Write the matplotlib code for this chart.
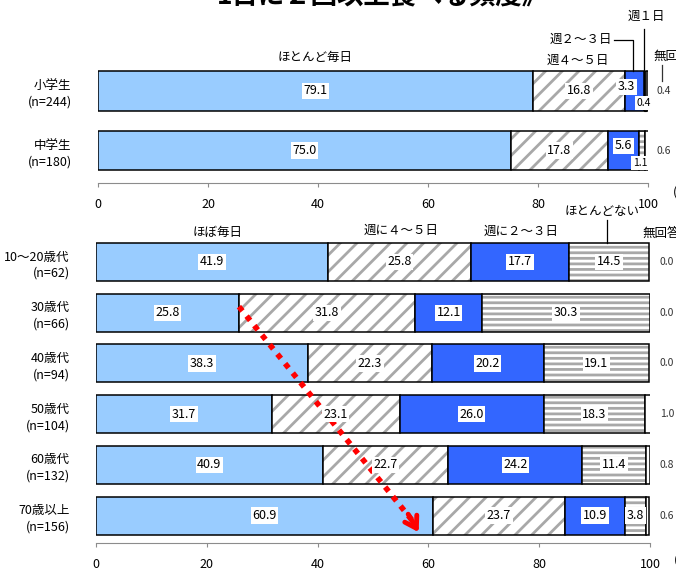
import numpy as np
import matplotlib.pyplot as plt

plt.rcParams['font.family'] = ['Noto Sans CJK JP', 'DejaVu Sans']
plt.rcParams['hatch.linewidth'] = 2.0

# top panel: school children
top_groups = ['小学生\n(n=244)', '中学生\n(n=180)']
top_daily = [79.1, 75.0]
top_45 = [16.8, 17.8]
top_23 = [3.3, 5.6]
top_w1 = [0.4, 0.0]
top_rare = [0.0, 1.1]
top_na = [0.4, 0.6]

# bottom panel: adults by age
age_groups = ['10～20歳代\n(n=62)', '30歳代\n(n=66)', '40歳代\n(n=94)',
              '50歳代\n(n=104)', '60歳代\n(n=132)', '70歳以上\n(n=156)']
age_daily = [41.9, 25.8, 38.3, 31.7, 40.9, 60.9]
age_45 = [25.8, 31.8, 22.3, 23.1, 22.7, 23.7]
age_23 = [17.7, 12.1, 20.2, 26.0, 24.2, 10.9]
age_rare = [14.5, 30.3, 19.1, 18.3, 11.4, 3.8]
age_na = [0.0, 0.0, 0.0, 1.0, 0.8, 0.6]

ticks = [0, 20, 40, 60, 80, 100]

LIGHT = '#99ccff'
BLUE = '#3366ff'
box = dict(facecolor='white', edgecolor='none', pad=1.2)
VS = 9  # value label size

fig = plt.figure(figsize=(6.76, 5.72), dpi=100)
W, H = 676, 572
ax1 = fig.add_axes([98 / W, 1 - 183 / H, 550 / W, 121 / H])
ax2 = fig.add_axes([96 / W, 1 - 543 / H, 554 / W, 315 / H])


def segment(ax, y, left, width, h, kind):
    if kind == 'daily':
        ax.barh(y, width, left=left, height=h, color=LIGHT, edgecolor='black', lw=1.1)
    elif kind == 'w45':
        ax.barh(y, width, left=left, height=h, color='white', edgecolor='#a8a8a8',
                hatch='//', lw=0)
        ax.barh(y, width, left=left, height=h, color='none', edgecolor='black', lw=1.1)
    elif kind == 'w23':
        ax.barh(y, width, left=left, height=h, color=BLUE, edgecolor='black', lw=1.1)
    elif kind == 'w1':
        ax.barh(y, width, left=left, height=h, color='#505050', edgecolor='black', lw=0.8)
    elif kind == 'rare':
        ax.barh(y, width, left=left, height=h, color='white', edgecolor='#a8a8a8',
                hatch='---', lw=0)
        ax.barh(y, width, left=left, height=h, color='none', edgecolor='black', lw=1.1)
    else:
        ax.barh(y, width, left=left, height=h, color='white', edgecolor='black', lw=1.1)


def style_axis(ax):
    for s in ['top', 'right', 'left']:
        ax.spines[s].set_visible(False)
    ax.spines['bottom'].set_color('#8c8c8c')
    ax.set_xlim(0, 100)
    ax.set_xticks(ticks)
    ax.tick_params(axis='x', direction='out', length=3, color='#8c8c8c',
                   labelsize=9, pad=8)
    ax.tick_params(axis='y', length=0, labelsize=9, pad=19)
    for lab in ax.get_yticklabels():
        lab.set_linespacing(1.35)


# ---- top panel
y1 = np.arange(len(top_groups))
h1 = 0.67
for i in y1:
    parts = [(top_daily[i], 'daily'), (top_45[i], 'w45'), (top_23[i], 'w23'),
             (top_w1[i], 'w1'), (top_rare[i], 'rare'), (top_na[i], 'na')]
    left = 0
    for v, k in parts:
        if v > 0:
            segment(ax1, i, left, v, h1, k)
        left += v
ax1.set_ylim(1.546, -0.487)
ax1.set_yticks(y1)
ax1.set_yticklabels(top_groups)
style_axis(ax1)

for i in y1:
    ax1.text(top_daily[i] / 2, i, f'{top_daily[i]:.1f}', ha='center', va='center', fontsize=VS, bbox=box)
    ax1.text(top_daily[i] + top_45[i] / 2, i, f'{top_45[i]:.1f}', ha='center', va='center', fontsize=VS, bbox=box)
    ax1.text(101.5, i, f'{top_na[i]:.1f}', ha='left', va='center', fontsize=7.5, color='#333333')

s = top_daily[0] + top_45[0]
ax1.text(s + 0.2, -0.07, f'{top_23[0]:.1f}', ha='center', va='center', fontsize=VS, bbox=box)
ax1.text(99.3, 0.2, f'{top_w1[0]:.1f}', ha='center', va='center', fontsize=7.5, bbox=box)
s = top_daily[1] + top_45[1]
ax1.text(s + top_23[1] / 2, 0.92, f'{top_23[1]:.1f}', ha='center', va='center', fontsize=VS, bbox=box)
ax1.text(98.6, 1.21, f'{top_rare[1]:.1f}', ha='center', va='center', fontsize=7.5, bbox=box)

# category captions above the top bars
ax1.text(39.5, -0.57, 'ほとんど毎日', ha='center', va='center', fontsize=9)
ax1.text(87.2, -0.51, '週４～５日', ha='center', va='center', fontsize=9)
ax1.text(93.4, -0.86, '週２～３日', ha='right', va='center', fontsize=9, clip_on=False)
ax1.plot([93.8, 97.3, 97.3], [-0.86, -0.86, -0.33], color='black', lw=0.9, clip_on=False)
ax1.text(96.2, -1.25, '週１日', ha='left', va='center', fontsize=9, clip_on=False)
ax1.plot([99.3, 99.3], [-1.04, -0.33], color='black', lw=0.9, clip_on=False)
ax1.text(100.9, -0.58, '無回答', ha='left', va='center', fontsize=9, clip_on=False)
ax1.plot([102.5, 102.5], [-0.44, -0.17], color='#333333', lw=0.9, clip_on=False)
ax1.text(104.5, 1.7, '(%)', ha='left', va='center', fontsize=9, clip_on=False)

# ---- bottom panel
y2 = np.arange(len(age_groups))
h2 = 0.75
for i in y2:
    parts = [(age_daily[i], 'daily'), (age_45[i], 'w45'), (age_23[i], 'w23'),
             (age_rare[i], 'rare'), (age_na[i], 'na')]
    left = 0
    for v, k in parts:
        if v > 0:
            segment(ax2, i, left, v, h2, k)
        if v > 2:
            ax2.text(left + v / 2, i, f'{v:.1f}', ha='center', va='center', fontsize=VS, bbox=box)
        left += v
    ax2.text(101.8, i, f'{age_na[i]:.1f}', ha='left', va='center', fontsize=7.5, color='#333333')
ax2.set_ylim(5.54, -0.67)
ax2.set_yticks(y2)
ax2.set_yticklabels(age_groups)
style_axis(ax2)

ax2.text(22.0, -0.58, 'ほぼ毎日', ha='center', va='center', fontsize=9)
ax2.text(55.0, -0.63, '週に４～５日', ha='center', va='center', fontsize=9)
ax2.text(76.8, -0.61, '週に２～３日', ha='center', va='center', fontsize=9)
ax2.text(91.3, -0.99, 'ほとんどない', ha='center', va='center', fontsize=9, clip_on=False)
ax2.plot([92.3, 92.3], [-0.83, -0.38], color='black', lw=0.9, clip_on=False)
ax2.text(98.7, -0.56, '無回答', ha='left', va='center', fontsize=9, clip_on=False)
ax2.text(104.3, 5.88, '(%)', ha='left', va='center', fontsize=9, clip_on=False)

# red dotted trend arrow from 30歳代 down to the bottom of 70歳以上
x0, yy0 = age_daily[1], 0.88
x1, yy1 = 58.5, 5 + h2 / 2
ax2.plot([x0, x1 - 1.2], [yy0, yy1 - 0.25], color='red', lw=4.0,
         linestyle=(0, (1, 1.2)), dash_capstyle='butt')
ax2.annotate('', xy=(x1, yy1), xytext=(x1 - 2.4, yy1 - 0.45),
             arrowprops=dict(arrowstyle='->,head_length=0.8,head_width=0.5',
                             color='red', lw=3.5))

# title (upper part is cut off by the figure edge)
fig.text(0.566, 1.005, '1日に２回以上食べる頻度》', ha='center', va='center',
         fontsize=19, fontweight='bold')

fig.savefig('out.png', dpi=100)
